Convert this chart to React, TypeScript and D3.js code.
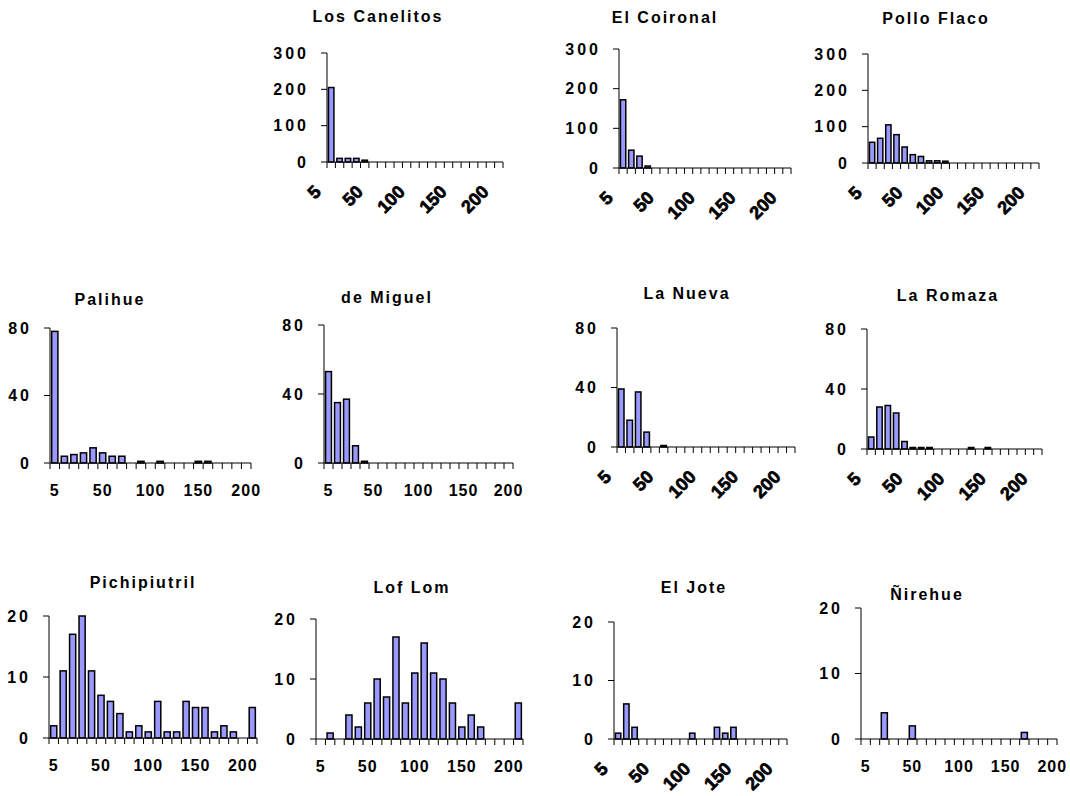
import * as d3 from 'd3';

// size classes (cm) shown on the x axis
const classes = [5, 10, 20, 30, 40, 50, 60, 70, 80, 90, 100, 110, 120, 130, 140, 150, 160, 170, 180, 190, 200, 210];
const shownLabels = [5, 50, 100, 150, 200];

const ticksTop = [0, 100, 200, 300];
const ticksMid = [0, 40, 80];
const ticksLow = [0, 10, 20];

// counts per class
const losCanelitos = [205, 10, 10, 10, 5, 0, 0, 0, 0, 0, 0, 0, 0, 0, 0, 0, 0, 0, 0, 0, 0];
const elCoironal = [172, 45, 30, 5, 0, 0, 0, 0, 0, 0, 0, 0, 0, 0, 0, 0, 0, 0, 0, 0, 0];
const polloFlaco = [57, 68, 105, 78, 44, 23, 18, 6, 6, 5, 0, 0, 0, 0, 0, 0, 0, 0, 0, 0, 0];
const palihue = [78, 4, 5, 6, 9, 6, 4, 4, 0, 1, 0, 1, 0, 0, 0, 1, 1, 0, 0, 0, 0];
const deMiguel = [53, 35, 37, 10, 1, 0, 0, 0, 0, 0, 0, 0, 0, 0, 0, 0, 0, 0, 0, 0, 0];
const laNueva = [39, 18, 37, 10, 0, 1, 0, 0, 0, 0, 0, 0, 0, 0, 0, 0, 0, 0, 0, 0, 0];
const laRomaza = [8, 28, 29, 24, 5, 1, 1, 1, 0, 0, 0, 0, 1, 0, 1, 0, 0, 0, 0, 0, 0];
const pichipiutril = [2, 11, 17, 20, 11, 7, 6, 4, 1, 2, 1, 6, 1, 1, 6, 5, 5, 1, 2, 1, 0, 5];
const lofLom = [0, 1, 0, 4, 2, 6, 10, 7, 17, 6, 11, 16, 11, 10, 6, 2, 4, 2, 0, 0, 0, 6];
const elJote = [1, 6, 2, 0, 0, 0, 0, 0, 0, 1, 0, 0, 2, 1, 2, 0, 0, 0, 0, 0, 0];
const nirehue = [0, 0, 4, 0, 0, 2, 0, 0, 0, 0, 0, 0, 0, 0, 0, 0, 0, 1, 0, 0, 0];

const FONT = '"Liberation Sans", Arial, sans-serif';

const panels = [
    { title: 'Los Canelitos', data: losCanelitos, ticks: ticksTop, x0: 327, x1: 503, yTop: 53, y0: 162, tx: 378, ty: 16, rot: true },
    { title: 'El Coironal', data: elCoironal, ticks: ticksTop, x0: 619, x1: 791, yTop: 49, y0: 168, tx: 665, ty: 17, rot: true },
    { title: 'Pollo Flaco', data: polloFlaco, ticks: ticksTop, x0: 868, x1: 1039, yTop: 54, y0: 163, tx: 936, ty: 18, rot: true },
    { title: 'Palihue', data: palihue, ticks: ticksMid, x0: 50, x1: 251, yTop: 328, y0: 463, tx: 110, ty: 299, rot: false },
    { title: 'de Miguel', data: deMiguel, ticks: ticksMid, x0: 324, x1: 513, yTop: 325, y0: 463, tx: 387, ty: 297, rot: false },
    { title: 'La Nueva', data: laNueva, ticks: ticksMid, x0: 617, x1: 795, yTop: 328, y0: 447, tx: 687, ty: 293, rot: true },
    { title: 'La Romaza', data: laRomaza, ticks: ticksMid, x0: 867, x1: 1042, yTop: 329, y0: 449, tx: 948, ty: 295, rot: true },
    { title: 'Pichipiutril', data: pichipiutril, ticks: ticksLow, x0: 49, x1: 257, yTop: 616, y0: 738, tx: 143, ty: 582, rot: false },
    { title: 'Lof Lom', data: lofLom, ticks: ticksLow, x0: 316, x1: 523, yTop: 619, y0: 739, tx: 412, ty: 587, rot: false },
    { title: 'El Jote', data: elJote, ticks: ticksLow, x0: 614, x1: 787, yTop: 622, y0: 739, tx: 694, ty: 587, rot: true },
    { title: 'Ñirehue', data: nirehue, ticks: ticksLow, x0: 861, x1: 1057, yTop: 608, y0: 739, tx: 927, ty: 594, rot: false },
];

type Panel = typeof panels[number];

function Histogram({ p }: { p: Panel }) {
    const cats = classes.slice(0, p.data.length);
    const x = d3.scaleBand<number>()
        .domain(cats)
        .range([p.x0, p.x1])
        .paddingInner(0.35)
        .paddingOuter(0.175);
    const y = d3.scaleLinear()
        .domain([0, p.ticks[p.ticks.length - 1]])
        .range([p.y0, p.yTop]);
    const step = x.step();
    const edge = (c: number) => (x(c) as number) - (step - x.bandwidth()) / 2;
    const boundaries = [...cats.map(edge), p.x1];

    return (
        <g>
            <text x={p.tx} y={p.ty + 6} textAnchor="middle" fontFamily={FONT} fontWeight="bold"
                fontSize={16} letterSpacing={2} fill="#000">{p.title}</text>

            {/* bars */}
            {p.data.map((v, i) => v > 0 && (
                <rect key={i} x={x(cats[i])} y={y(v)} width={x.bandwidth()} height={p.y0 - y(v)}
                    fill="#9999ff" stroke="#000" strokeWidth={1.5} />
            ))}

            {/* y axis */}
            <line x1={p.x0} x2={p.x0} y1={p.yTop} y2={p.y0} stroke="#000" />
            {p.ticks.map(t => (
                <g key={t}>
                    <line x1={p.x0 - 6} x2={p.x0} y1={y(t)} y2={y(t)} stroke="#000" />
                    <text x={p.x0 - 18} y={y(t)} dy="0.36em" textAnchor="end" fontFamily={FONT}
                        fontWeight="bold" fontSize={16} letterSpacing={3} fill="#000">{t}</text>
                </g>
            ))}

            {/* x axis */}
            <line x1={p.x0} x2={p.x1} y1={p.y0} y2={p.y0} stroke="#000" />
            {boundaries.map((b, i) => (
                <line key={i} x1={b} x2={b} y1={p.y0} y2={p.y0 + 6} stroke="#000" />
            ))}
            {shownLabels.map(c => {
                const cx = (x(c) as number) + x.bandwidth() / 2;
                return p.rot ? (
                    <text key={c} transform={`translate(${cx - 9},${p.y0 + 31}) rotate(-45)`} textAnchor="end"
                        fontFamily={FONT} fontWeight="bold" fontSize={18} fill="#000"
                        stroke="#000" strokeWidth={0.7}>{c}</text>
                ) : (
                    <text key={c} x={cx} y={p.y0 + 33} textAnchor="middle" fontFamily={FONT}
                        fontWeight="bold" fontSize={16} letterSpacing={1} fill="#000">{c}</text>
                );
            })}
        </g>
    );
}

export default function App() {
    return (
        <svg width={1070} height={796} style={{ position: 'absolute', left: 0, top: 0, background: '#fff' }}>
            {panels.map(p => <Histogram key={p.title} p={p} />)}
        </svg>
    );
}
